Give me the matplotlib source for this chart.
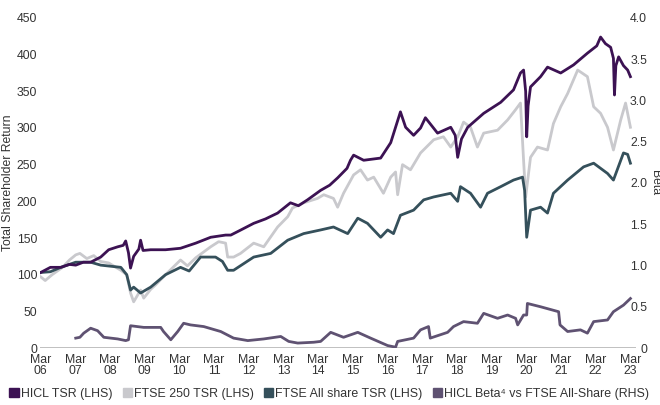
import matplotlib
matplotlib.use("Agg")
import matplotlib.pyplot as plt
from matplotlib.patches import Patch

plt.rcParams['font.family'] = ['Liberation Sans', 'DejaVu Sans']

# Values (decimal years, index level / beta)
hicl_t = [2006.17, 2006.45, 2006.75, 2007.00, 2007.18, 2007.40, 2007.61, 2007.90, 2008.13, 2008.39,
          2008.55, 2008.62, 2008.70, 2008.76, 2008.85, 2009.00, 2009.05, 2009.12, 2009.34, 2009.77,
          2010.20, 2010.64, 2011.07, 2011.50, 2011.65, 2011.90, 2012.31, 2012.65, 2013.00, 2013.37,
          2013.60, 2013.86, 2014.24, 2014.50, 2014.73, 2015.00, 2015.10, 2015.19, 2015.48, 2015.97,
          2016.26, 2016.40, 2016.54, 2016.69, 2016.92, 2017.12, 2017.26, 2017.61, 2017.99, 2018.12,
          2018.19, 2018.30, 2018.48, 2018.94, 2019.43, 2019.80, 2020.00, 2020.09, 2020.15, 2020.18,
          2020.22, 2020.29, 2020.58, 2020.78, 2021.16, 2021.53, 2021.93, 2022.20, 2022.31, 2022.45,
          2022.60, 2022.68, 2022.71, 2022.75, 2022.83, 2022.97, 2023.09, 2023.17]
hicl_v = [103, 110, 110, 114, 113, 117, 117, 124, 134, 138,
          140, 146, 130, 109, 125, 135, 147, 133, 134, 134,
          136, 143, 151, 154, 154, 160, 170, 176, 184, 198,
          194, 202, 215, 222, 232, 245, 256, 263, 256, 259,
          280, 301, 322, 301, 290, 300, 314, 293, 301, 290,
          260, 285, 301, 320, 335, 352, 375, 379, 350, 288,
          330, 356, 370, 383, 375, 386, 402, 412, 424, 415,
          410, 395, 345, 385, 397, 385, 379, 370]

ftse250_t = [2006.17, 2006.30, 2006.50, 2006.80, 2007.00, 2007.18, 2007.30, 2007.50, 2007.70, 2007.90,
             2008.13, 2008.48, 2008.65, 2008.76, 2008.85, 2009.05, 2009.14, 2009.34, 2009.48, 2009.77,
             2010.20, 2010.40, 2010.64, 2011.07, 2011.30, 2011.50, 2011.56, 2011.73, 2011.93, 2012.31,
             2012.60, 2013.00, 2013.29, 2013.43, 2013.75, 2014.15, 2014.33, 2014.61, 2014.73, 2014.90,
             2015.19, 2015.39, 2015.59, 2015.77, 2016.05, 2016.26, 2016.40, 2016.46, 2016.60, 2016.83,
             2017.12, 2017.50, 2017.78, 2017.99, 2018.19, 2018.36, 2018.56, 2018.76, 2018.94, 2019.34,
             2019.63, 2019.86, 2020.00, 2020.09, 2020.15, 2020.29, 2020.49, 2020.78, 2020.95, 2021.16,
             2021.36, 2021.65, 2021.93, 2022.11, 2022.31, 2022.51, 2022.68, 2022.89, 2023.03, 2023.17]
ftse250_v = [97, 92, 100, 110, 120, 127, 129, 122, 126, 118,
             116, 106, 100, 75, 63, 79, 68, 80, 86, 100,
             120, 112, 123, 138, 145, 143, 124, 124, 129, 143,
             138, 165, 179, 191, 198, 204, 209, 204, 192, 211,
             236, 243, 229, 233, 211, 233, 240, 209, 250, 243,
             266, 284, 288, 274, 288, 308, 301, 274, 293, 297,
             311, 325, 334, 256, 206, 260, 274, 270, 306, 329,
             347, 379, 370, 329, 320, 301, 270, 311, 334, 301]

allshare_t = [2006.17, 2006.45, 2006.75, 2007.18, 2007.61, 2007.90, 2008.48, 2008.65, 2008.76, 2008.85,
              2009.05, 2009.34, 2009.77, 2010.20, 2010.45, 2010.78, 2011.21, 2011.41, 2011.56, 2011.73,
              2012.31, 2012.80, 2013.29, 2013.75, 2014.24, 2014.61, 2015.02, 2015.31, 2015.59, 2015.97,
              2016.17, 2016.34, 2016.54, 2016.92, 2017.21, 2017.50, 2017.99, 2018.19, 2018.27, 2018.56,
              2018.85, 2019.05, 2019.43, 2019.80, 2020.06, 2020.12, 2020.18, 2020.29, 2020.58, 2020.78,
              2020.95, 2021.36, 2021.82, 2022.11, 2022.51, 2022.68, 2022.97, 2023.09, 2023.17]
allshare_v = [103, 104, 110, 117, 117, 113, 110, 100, 79, 83,
              75, 83, 100, 110, 105, 124, 124, 118, 106, 106,
              124, 129, 147, 156, 161, 165, 156, 177, 170, 151,
              161, 156, 181, 188, 202, 206, 211, 200, 220, 211,
              192, 211, 220, 229, 233, 215, 151, 188, 192, 184,
              211, 229, 247, 252, 238, 229, 266, 264, 252]

beta_t = [2007.18, 2007.30, 2007.41, 2007.61, 2007.81, 2007.99, 2008.39, 2008.62, 2008.70, 2008.76,
          2009.14, 2009.63, 2009.71, 2009.92, 2010.12, 2010.29, 2010.49, 2010.87, 2011.36, 2011.73,
          2012.14, 2012.60, 2013.09, 2013.32, 2013.58, 2014.04, 2014.24, 2014.53, 2014.90, 2015.31,
          2015.68, 2016.17, 2016.40, 2016.46, 2016.92, 2017.12, 2017.35, 2017.40, 2017.90, 2018.07,
          2018.36, 2018.76, 2018.94, 2019.34, 2019.63, 2019.86, 2019.92, 2020.09, 2020.18, 2020.20,
          2020.58, 2021.10, 2021.14, 2021.36, 2021.73, 2021.93, 2022.11, 2022.51, 2022.68, 2022.97,
          2023.17]
beta_v = [0.12, 0.13, 0.18, 0.24, 0.21, 0.13, 0.11, 0.09, 0.10, 0.27,
          0.25, 0.25, 0.20, 0.10, 0.20, 0.30, 0.28, 0.26, 0.20, 0.12,
          0.09, 0.11, 0.14, 0.08, 0.06, 0.07, 0.08, 0.19, 0.13, 0.19,
          0.12, 0.03, 0.01, 0.08, 0.12, 0.22, 0.26, 0.12, 0.19, 0.26,
          0.32, 0.30, 0.42, 0.36, 0.40, 0.36, 0.28, 0.40, 0.40, 0.54,
          0.50, 0.44, 0.28, 0.20, 0.22, 0.18, 0.32, 0.34, 0.44, 0.52,
          0.60]

tick_years = list(range(2006, 2024))
tick_labels = ["Mar\n%02d" % (y % 100) for y in tick_years]
left_ticks = [0, 50, 100, 150, 200, 250, 300, 350, 400, 450]
right_ticks = [0, 0.5, 1.0, 1.5, 2.0, 2.5, 3.0, 3.5, 4.0]

c_hicl = '#3c1253'
c_250 = '#c9c9cd'
c_all = '#35505b'
c_beta = '#5f5272'
txt = '#333333'

fig = plt.figure(figsize=(6.6, 4.05), dpi=100)
ax = fig.add_axes([0.0606, 0.1407, 0.9030, 0.8149])

ax.plot(ftse250_t, ftse250_v, color=c_250, lw=2.0, zorder=2)
ax.plot(allshare_t, allshare_v, color=c_all, lw=2.0, zorder=3)
ax.plot(hicl_t, hicl_v, color=c_hicl, lw=2.0, zorder=4)
ax.axhline(0, color='#b5b5b5', lw=1.2, zorder=1)

ax.set_xlim(2006.15, 2023.33)
ax.set_ylim(0, 450)
ax.set_xticks([y + 2 / 12 for y in tick_years])
ax.set_xticklabels(tick_labels, linespacing=0.95)
ax.set_yticks(left_ticks)
ax.tick_params(axis='both', length=0, labelsize=8.8, colors=txt)
ax.tick_params(axis='y', pad=2)
ax.tick_params(axis='x', pad=4)
for s in ax.spines.values():
    s.set_visible(False)
ax.set_ylabel("Total Shareholder Return", fontsize=8.8, color=txt, labelpad=2)

ax2 = ax.twinx()
ax2.plot(beta_t, beta_v, color=c_beta, lw=2.0)
ax2.set_ylim(0, 4.0)
ax2.set_yticks(right_ticks)
ax2.set_yticklabels(["0" if v == 0 else "%.1f" % v for v in right_ticks])
ax2.tick_params(axis='y', length=0, labelsize=8.8, colors=txt, pad=8)
for lab in ax2.get_yticklabels():
    lab.set_horizontalalignment('right')
for s in ax2.spines.values():
    s.set_visible(False)
ax2.set_ylabel("Beta", fontsize=8.8, color=txt, rotation=270, labelpad=10)

handles = [Patch(color=c_hicl), Patch(color=c_250), Patch(color=c_all), Patch(color=c_beta)]
labels = ["HICL TSR (LHS)", "FTSE 250 TSR (LHS)", "FTSE All share TSR (LHS)",
          "HICL Beta\u2074 vs FTSE All-Share (RHS)"]
fig.legend(handles, labels, loc='lower left', bbox_to_anchor=(0.003, -0.005), ncol=4,
           frameon=False, fontsize=8.9, handlelength=0.75, handleheight=0.75,
           handletextpad=0.15, columnspacing=0.85, labelcolor=txt, borderaxespad=0.2)

fig.savefig("out.png", dpi=100)
